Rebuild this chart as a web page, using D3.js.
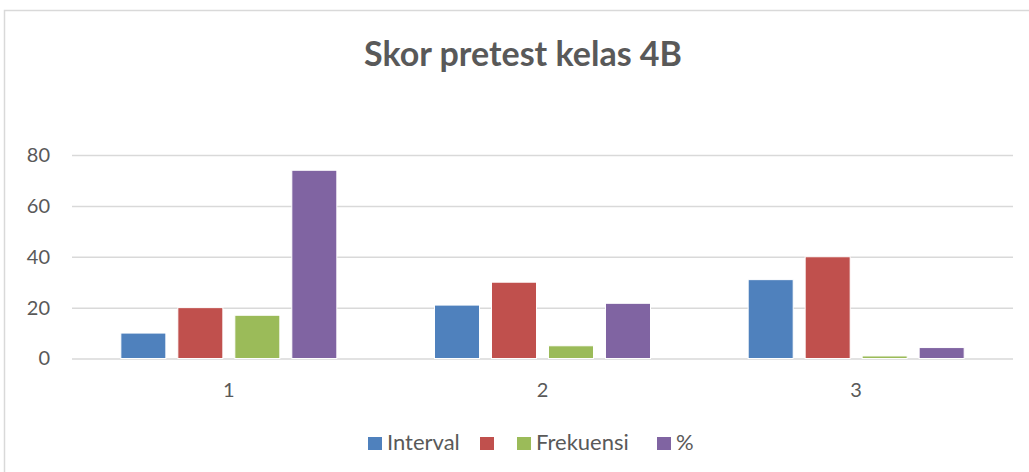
<!DOCTYPE html>
<html>
<head>
<meta charset="utf-8">
<script src="https://cdn.jsdelivr.net/npm/d3@7"></script>
<style>
  body { margin: 0; background: #fff; }
  text { font-family: Lato, "Liberation Sans", sans-serif; fill: #595959; }
</style>
</head>
<body>
<script>
// Data
const categories = ["1", "2", "3"];
const seriesNames = ["Interval", "", "Frekuensi", "%"];
const seriesColors = ["#4f81bd", "#c0504d", "#9bbb59", "#8064a2"];
const interval = [10, 21, 31];
const unnamed = [20, 30, 40];
const frekuensi = [17, 5, 1];
const persen = [74, 21.7, 4.3];
const yTicks = [0, 20, 40, 60, 80];

const values = [interval, unnamed, frekuensi, persen];

// set up svg container
const width = 1029;
const height = 472;
const plot = { left: 72, right: 1013, top: 155, bottom: 358.5 };

const svg = d3
  .select("body")
  .append("svg")
  .attr("width", width)
  .attr("height", height);

// chart frame
svg
  .append("rect")
  .attr("x", 4.5)
  .attr("y", 10.5)
  .attr("width", 1030)
  .attr("height", 470)
  .attr("fill", "none")
  .attr("stroke", "#d9d9d9")
  .attr("stroke-width", 1.5);

// title
svg
  .append("text")
  .attr("x", 523)
  .attr("y", 66)
  .attr("text-anchor", "middle")
  .style("font-size", "34px")
  .style("font-weight", "bold")
  .text("Skor pretest kelas 4B");

// scales
const x0 = d3
  .scaleBand()
  .domain(categories)
  .range([plot.left, plot.right]);

const groupW = 216;
const x1 = d3
  .scaleBand()
  .domain(d3.range(seriesNames.length))
  .range([(x0.bandwidth() - groupW) / 2, (x0.bandwidth() + groupW) / 2])
  .paddingInner(0.21);

const yScale = d3.scaleLinear().domain([0, 80]).range([plot.bottom, plot.top]);

// gridlines + y labels
const yAxis = d3
  .axisLeft(yScale)
  .tickValues(yTicks)
  .tickSize(-(plot.right - plot.left))
  .tickPadding(22);

const yG = svg
  .append("g")
  .attr("transform", "translate(" + plot.left + ",0)")
  .call(yAxis);
yG.select(".domain").remove();
yG.selectAll("line").attr("stroke", "#d9d9d9").attr("stroke-width", 1.5);
yG.selectAll("text")
  .style("font-size", "20px")
  .style("font-family", "Lato, 'Liberation Sans', sans-serif")
  .attr("fill", "#595959");

// x labels
const xAxis = d3.axisBottom(x0).tickSize(0).tickPadding(24);
const xG = svg
  .append("g")
  .attr("transform", "translate(0," + plot.bottom + ")")
  .call(xAxis);
xG.select(".domain").remove();
xG.selectAll("text")
  .style("font-size", "20px")
  .style("font-family", "Lato, 'Liberation Sans', sans-serif")
  .attr("fill", "#595959");

// bars
const groups = svg
  .selectAll("g.cat")
  .data(categories)
  .enter()
  .append("g")
  .attr("class", "cat")
  .attr("transform", (d) => "translate(" + x0(d) + ",0)");

groups
  .selectAll("rect")
  .data((d, i) => values.map((v, s) => ({ s: s, v: v[i] })))
  .enter()
  .append("rect")
  .attr("x", (d) => x1(d.s))
  .attr("y", (d) => yScale(d.v))
  .attr("width", x1.bandwidth())
  .attr("height", (d) => yScale(0) - yScale(d.v))
  .attr("fill", (d) => seriesColors[d.s])
  .attr("stroke", "#fff")
  .attr("stroke-width", 1);

// legend
const legendX = [368, 480, 517, 657];
const legend = svg
  .selectAll("g.leg")
  .data(seriesNames)
  .enter()
  .append("g")
  .attr("class", "leg")
  .attr("transform", (d, i) => "translate(" + legendX[i] + ",437)");

legend
  .append("rect")
  .attr("width", 14)
  .attr("height", 13)
  .attr("fill", (d, i) => seriesColors[i]);

legend
  .append("text")
  .attr("x", 19)
  .attr("y", 13)
  .style("font-size", "22px")
  .text((d) => d);
</script>
</body>
</html>
